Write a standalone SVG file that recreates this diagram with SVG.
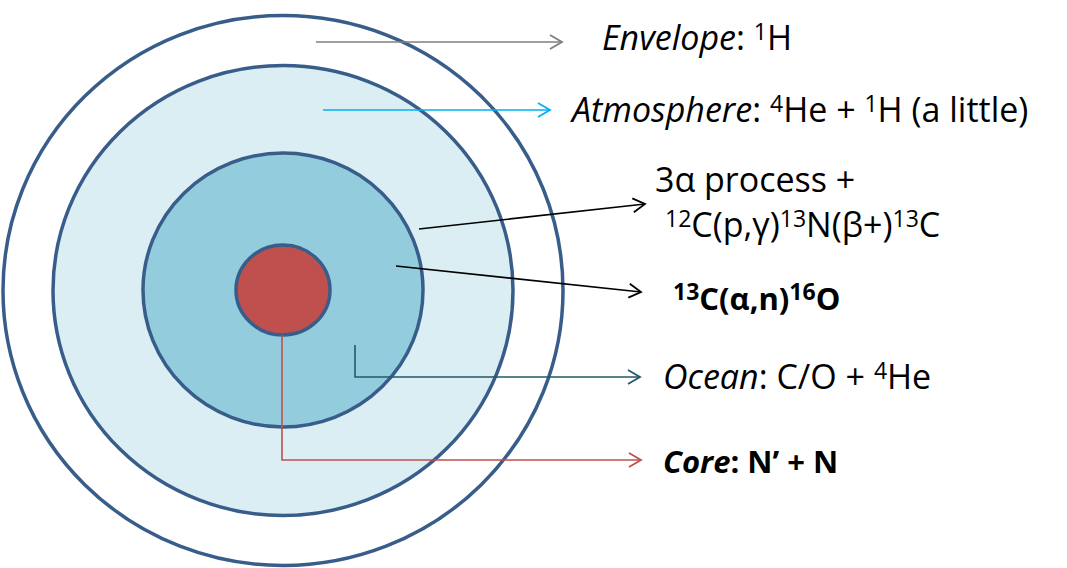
<svg xmlns="http://www.w3.org/2000/svg" width="1067" height="568" viewBox="0 0 1067 568">
<style>
.ring{stroke:#385D8A;stroke-width:3.5}
.lbl{font-family:"Open Sans","Liberation Sans",sans-serif;font-size:34px;fill:#000}
.bold{font-weight:bold;font-size:31px}
.sup{font-size:23px}
.conn{fill:none;stroke-width:1.6}
</style>
<defs>
<marker id="mGrey" markerUnits="userSpaceOnUse" markerWidth="16" markerHeight="18" refX="13" refY="8" orient="auto"><path d="M1,1 L13,8 L1,15" fill="none" stroke="#7F7F7F" stroke-width="1.8"/></marker>
<marker id="mCyan" markerUnits="userSpaceOnUse" markerWidth="16" markerHeight="18" refX="13" refY="8" orient="auto"><path d="M1,1 L13,8 L1,15" fill="none" stroke="#00B0F0" stroke-width="1.8"/></marker>
<marker id="mBlack" markerUnits="userSpaceOnUse" markerWidth="16" markerHeight="18" refX="13" refY="8" orient="auto"><path d="M1,1 L13,8 L1,15" fill="none" stroke="#000" stroke-width="1.8"/></marker>
<marker id="mTeal" markerUnits="userSpaceOnUse" markerWidth="16" markerHeight="18" refX="13" refY="8" orient="auto"><path d="M1,1 L13,8 L1,15" fill="none" stroke="#215968" stroke-width="1.8"/></marker>
<marker id="mRed" markerUnits="userSpaceOnUse" markerWidth="16" markerHeight="18" refX="13" refY="8" orient="auto"><path d="M1,1 L13,8 L1,15" fill="none" stroke="#C0504D" stroke-width="1.8"/></marker>
</defs>
<rect width="1067" height="568" fill="#fff"/>
<g id="envelope"><ellipse class="ring" cx="283" cy="290.5" rx="280" ry="275" fill="#fff"/></g>
<g id="atmosphere"><ellipse class="ring" cx="283" cy="290.5" rx="230" ry="225" fill="#DBEEF4"/></g>
<g id="ocean"><ellipse class="ring" cx="283" cy="290" rx="140" ry="137" fill="#93CDDD"/></g>
<g id="core"><ellipse class="ring" cx="283" cy="290" rx="47" ry="45" fill="#C0504D"/></g>
<g id="connectors">
<path class="conn" d="M316,42 H562" stroke="#7F7F7F" marker-end="url(#mGrey)"/>
<path class="conn" d="M323,110 H550" stroke="#00B0F0" marker-end="url(#mCyan)"/>
<path class="conn" d="M419,229 L645,204" stroke="#000" marker-end="url(#mBlack)"/>
<path class="conn" d="M396,266 L641,292" stroke="#000" marker-end="url(#mBlack)"/>
<path class="conn" d="M355,345 V377 H640" stroke="#215968" marker-end="url(#mTeal)"/>
<path class="conn" d="M282,335 V460 H641" stroke="#C0504D" marker-end="url(#mRed)"/>
</g>
<g id="labels">
<text class="lbl" x="602" y="50"><tspan font-style="italic">Envelope</tspan>: <tspan class="sup" dy="-10">1</tspan><tspan dy="10">H</tspan></text>
<text class="lbl" x="572" y="122"><tspan font-style="italic">Atmosphere</tspan>: <tspan class="sup" dy="-10">4</tspan><tspan dy="10">He + </tspan><tspan class="sup" dy="-10">1</tspan><tspan dy="10">H (a little)</tspan></text>
<text class="lbl" x="655" y="192">3α process +</text>
<text class="lbl" x="665" y="237"><tspan class="sup" dy="-10">12</tspan><tspan dy="10">C(p,γ)</tspan><tspan class="sup" dy="-10">13</tspan><tspan dy="10">N(β+)</tspan><tspan class="sup" dy="-10">13</tspan><tspan dy="10">C</tspan></text>
<text class="lbl bold" x="673" y="310"><tspan class="sup" dy="-10">13</tspan><tspan dy="10">C(α,n)</tspan><tspan class="sup" dy="-10">16</tspan><tspan dy="10">O</tspan></text>
<text class="lbl" x="663" y="389"><tspan font-style="italic">Ocean</tspan>: C/O + <tspan class="sup" dy="-10">4</tspan><tspan dy="10">He</tspan></text>
<text class="lbl bold" x="663" y="473"><tspan font-style="italic">Core</tspan>: N’ + N</text>
</g>
</svg>
